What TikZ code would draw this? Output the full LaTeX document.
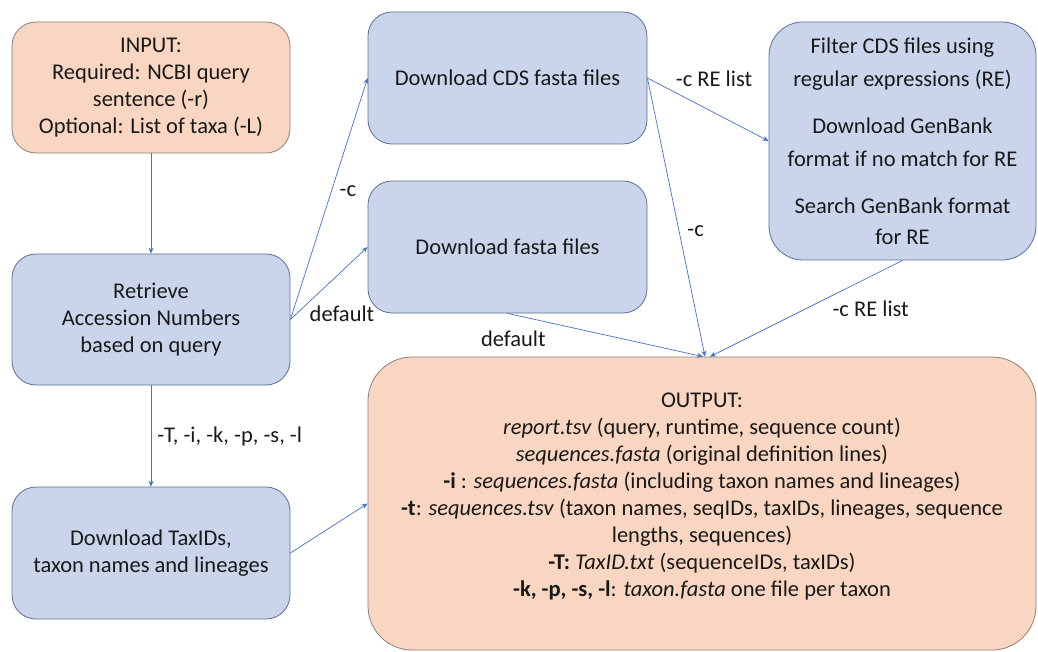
\documentclass[tikz,border=0pt]{standalone}
\usepackage{fontspec}
\setmainfont{Carlito}
\usetikzlibrary{arrows.meta}

\definecolor{boxblue}{HTML}{CAD5EB}
\definecolor{lineblue}{HTML}{5B6E96}
\definecolor{boxorange}{HTML}{F9D6C1}
\definecolor{lineorange}{HTML}{8C7F7A}
\definecolor{arrowblue}{HTML}{4472C4}

\begin{document}
\begin{tikzpicture}[x=1pt,y=-1pt,
  every node/.style={font=\fontsize{22.5}{27}\selectfont, text=black!90},
  blue box/.style={draw=lineblue, fill=boxblue, rounded corners=24pt, align=center, inner sep=0pt, line width=0.8pt},
  orange box/.style={draw=lineorange, fill=boxorange, rounded corners=24pt, align=center, inner sep=0pt, line width=0.8pt},
  flow/.style={->, >={Stealth[length=6pt,width=5pt]}, draw=arrowblue, line width=0.7pt},
  lbl/.style={font=\fontsize{22.5}{27}\selectfont, inner sep=2pt}]

  % Page frame
  \useasboundingbox (0,0) rectangle (1038,652);

  % Left column
  \node[orange box, minimum width=278pt, minimum height=131pt] (input) at (151,87.5)
    {INPUT:\\Required: NCBI query\\sentence (-r)\\Optional: List of taxa (-L)};
  \node[blue box, minimum width=278pt, minimum height=131pt] (retrieve) at (151,319.5)
    {Retrieve\\Accession Numbers\\based on query};
  \node[blue box, minimum width=278pt, minimum height=132pt] (taxids) at (151,553)
    {Download TaxIDs,\\taxon names and lineages};

  % Middle column
  \node[blue box, minimum width=279pt, minimum height=132pt] (cds) at (507.5,78)
    {Download CDS fasta files};
  \node[blue box, minimum width=279pt, minimum height=132pt] (fasta) at (507.5,247)
    {Download fasta files};

  % Right column
  \node[blue box, rounded corners=34pt, minimum width=267pt, minimum height=238pt] (filter) at (902.5,141)
    {Filter CDS files using\\[6pt]regular expressions (RE)\\[20pt]Download GenBank\\[6pt]format if no match for RE\\[20pt]Search GenBank format\\[4pt]for RE};
  \node[orange box, rounded corners=44pt, minimum width=668pt, minimum height=293pt] (output) at (702,503.5)
    {OUTPUT:\\
     \textit{report.tsv} (query, runtime, sequence count)\\
     \textit{sequences.fasta}\ (original definition lines)\\
     \textbf{-i} : \textit{sequences.fasta}\ (including taxon names and lineages)\\
     \textbf{-t}: \textit{sequences.tsv}\ (taxon names, seqIDs, taxIDs, lineages, sequence\\
     lengths, sequences)\\
     \textbf{-T:} \textit{TaxID.txt} (sequenceIDs, taxIDs)\\
     \textbf{-k, -p, -s, -l}: \textit{taxon.fasta}\ one file per taxon\\[-9pt]\mbox{}};

  % Connectors
  \draw[flow] (input) -- (retrieve);
  \draw[flow] (retrieve.east) -- node[pos=0.53, right=6pt, lbl] {-c} (cds.west);
  \draw[flow] (retrieve.east) -- node[pos=0.22, anchor=north west, lbl] {default} (fasta.west);
  \draw[flow] (retrieve) -- node[midway, right=4pt, lbl] {-T, -i, -k, -p, -s, -l} (taxids);
  \draw[flow] (taxids.east) -- (output.west);
  \draw[flow] (cds.east) -- node[pos=0.55, above=24pt, lbl] {-c RE list} (filter.west);
  \draw[flow] (cds.east) -- node[pos=0.55, right=6pt, lbl] {-c} ([xshift=3pt]output.north);
  \draw[flow] (fasta.south) -- node[pos=0.03, below=14pt, lbl] {default} ([xshift=1pt]output.north);
  \draw[flow] (filter.south) -- node[pos=0.5, right=24pt, lbl] {-c RE list} ([xshift=8pt]output.north);

\end{tikzpicture}
\end{document}
